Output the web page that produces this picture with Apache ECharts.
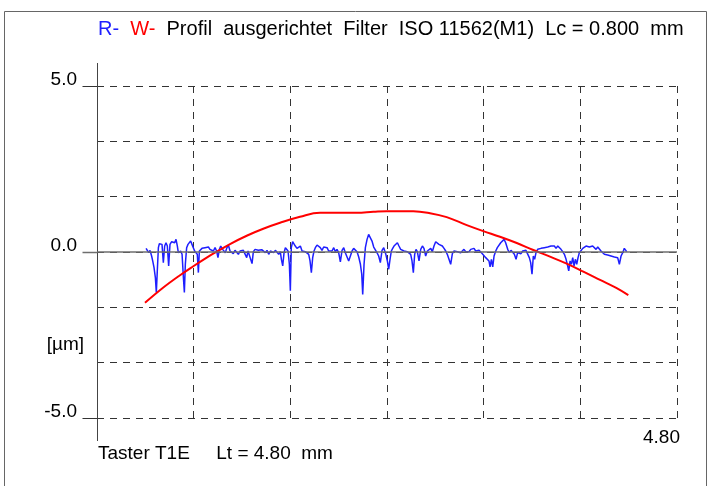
<!DOCTYPE html>
<html>
<head>
<meta charset="utf-8">
<title>Profil</title>
<script src="https://cdn.jsdelivr.net/npm/echarts@6/dist/echarts.min.js"></script>
<style>
	html, body { margin: 0; padding: 0; background: #fff; }
	#main { width: 711px; height: 486px; }
</style>
</head>
<body>
<div id="main"></div>
<script>
	// R-Profil (blau), [x in mm, z in µm]
	var rProfile = [
		[0.406,0.11],[0.417,0.13],[0.428,-0.02],[0.439,0.05],[0.452,-0.12],[0.461,-0.27],[0.472,-0.47],[0.483,-0.77],[0.491,-1.22],[0.499,-0.57],
		[0.508,0.13],[0.516,0.25],[0.527,0.28],[0.538,0.23],[0.549,-0.32],[0.560,0.18],[0.571,0.28],[0.582,0.18],[0.593,-0.42],[0.604,0.23],
		[0.618,0.31],[0.632,0.35],[0.643,0.28],[0.654,0.38],[0.665,0.18],[0.673,-0.02],[0.681,0.01],[0.692,0.03],[0.704,-0.07],[0.715,-0.77],
		[0.723,-1.22],[0.731,-0.37],[0.742,0.13],[0.753,0.23],[0.764,0.28],[0.775,0.33],[0.786,0.23],[0.797,0.13],[0.808,0.03],[0.819,0.08],
		[0.830,-0.07],[0.839,-0.62],[0.847,0.03],[0.858,0.05],[0.869,0.11],[0.880,0.07],[0.894,0.13],[0.908,0.11],[0.922,0.15],[0.935,0.08],
		[0.949,0.11],[0.963,0.03],[0.977,0.13],[0.990,0.03],[1.001,-0.17],[1.013,0.08],[1.024,0.18],[1.040,0.08],[1.051,0.13],[1.062,-0.02],
		[1.073,0.11],[1.087,0.21],[1.101,0.03],[1.115,0.08],[1.128,-0.05],[1.142,0.05],[1.156,0.01],[1.170,-0.07],[1.184,0.03],[1.197,-0.02],
		[1.211,0.05],[1.225,0.01],[1.239,-0.17],[1.250,0.03],[1.266,0.05],[1.283,-0.35],[1.294,0.01],[1.308,0.08],[1.322,0.03],[1.335,0.05],
		[1.349,0.01],[1.363,0.07],[1.379,0.08],[1.393,-0.02],[1.407,0.05],[1.421,-0.07],[1.435,0.03],[1.448,0.08],[1.462,-0.02],[1.476,0.05],
		[1.490,0.08],[1.504,-0.07],[1.517,0.01],[1.526,-0.22],[1.537,-0.42],[1.548,-0.02],[1.559,0.13],[1.570,0.15],[1.581,0.03],[1.592,-0.37],
		[1.600,-1.17],[1.608,0.13],[1.619,0.31],[1.630,0.25],[1.641,0.18],[1.655,0.11],[1.669,0.05],[1.683,0.18],[1.697,0.03],[1.710,0.08],
		[1.724,0.01],[1.738,0.07],[1.752,-0.07],[1.763,-0.27],[1.774,-0.62],[1.785,-0.17],[1.796,0.03],[1.807,0.13],[1.821,0.21],[1.835,0.23],
		[1.848,0.13],[1.862,0.05],[1.876,0.15],[1.890,0.11],[1.904,0.13],[1.917,0.03],[1.931,0.08],[1.945,0.03],[1.959,0.13],[1.973,0.01],
		[1.986,0.08],[2.000,-0.02],[2.014,-0.30],[2.028,0.05],[2.042,0.13],[2.055,-0.02],[2.069,0.03],[2.083,-0.27],[2.097,-0.22],[2.111,0.03],
		[2.124,0.11],[2.138,0.05],[2.152,0.01],[2.166,-0.15],[2.180,-0.37],[2.191,-0.67],[2.199,-1.28],[2.210,-0.37],[2.221,0.13],[2.235,0.38],
		[2.248,0.53],[2.262,0.48],[2.276,0.33],[2.290,0.15],[2.304,0.13],[2.317,-0.02],[2.331,-0.12],[2.345,-0.32],[2.359,0.05],[2.373,0.13],
		[2.389,-0.05],[2.403,-0.27],[2.414,-0.52],[2.425,-0.22],[2.436,0.03],[2.447,0.11],[2.458,0.18],[2.472,0.23],[2.486,0.28],[2.499,0.18],
		[2.513,0.08],[2.527,0.13],[2.541,0.03],[2.555,0.08],[2.568,0.01],[2.582,0.05],[2.596,-0.07],[2.607,-0.27],[2.618,-0.62],[2.629,-0.07],
		[2.640,0.08],[2.651,0.01],[2.665,-0.27],[2.679,0.08],[2.693,0.18],[2.706,0.11],[2.720,-0.12],[2.734,0.03],[2.748,0.08],[2.762,0.11],
		[2.775,0.01],[2.789,0.18],[2.803,0.31],[2.817,0.28],[2.830,0.23],[2.844,0.25],[2.858,0.18],[2.872,0.11],[2.886,0.03],[2.899,-0.07],
		[2.913,-0.22],[2.927,-0.37],[2.941,-0.05],[2.955,0.03],[2.968,0.08],[2.982,0.01],[2.996,0.05],[3.010,-0.02],[3.024,0.03],[3.037,0.08],
		[3.051,0.01],[3.065,0.05],[3.079,0.01],[3.093,0.08],[3.106,0.03],[3.120,0.11],[3.134,0.03],[3.148,0.08],[3.162,0.05],[3.175,0.01],
		[3.189,-0.05],[3.203,-0.09],[3.217,-0.17],[3.231,-0.12],[3.244,-0.27],[3.253,-0.45],[3.264,-0.22],[3.275,-0.45],[3.286,-0.12],[3.300,0.03],
		[3.313,0.13],[3.327,0.18],[3.341,0.28],[3.355,0.33],[3.369,0.38],[3.382,0.28],[3.399,0.08],[3.413,-0.02],[3.426,0.05],[3.440,0.01],
		[3.454,-0.07],[3.468,-0.22],[3.481,-0.02],[3.495,0.01],[3.509,-0.05],[3.523,0.03],[3.537,-0.02],[3.550,0.05],[3.564,0.03],[3.578,-0.17],
		[3.589,-0.32],[3.600,-0.67],[3.611,-0.12],[3.622,-0.22],[3.633,-0.02],[3.647,0.08],[3.661,0.13],[3.675,0.11],[3.688,0.05],[3.702,0.13],
		[3.716,0.18],[3.730,0.15],[3.744,0.11],[3.757,0.18],[3.771,0.23],[3.785,0.18],[3.799,0.11],[3.813,0.18],[3.826,0.15],[3.840,0.08],
		[3.854,0.01],[3.868,-0.07],[3.882,-0.22],[3.895,-0.42],[3.904,-0.57],[3.915,-0.27],[3.926,-0.37],[3.937,-0.17],[3.948,-0.42],[3.959,-0.22],
		[3.970,-0.37],[3.981,-0.17],[3.992,-0.02],[4.006,0.03],[4.020,0.11],[4.033,0.08],[4.047,0.18],[4.061,0.23],[4.075,0.15],[4.089,0.21],
		[4.102,0.18],[4.116,0.13],[4.130,0.08],[4.144,0.15],[4.157,0.11],[4.171,0.03],[4.185,0.05],[4.199,-0.07],[4.213,-0.02],[4.226,-0.09],
		[4.240,-0.05],[4.254,-0.12],[4.268,-0.07],[4.282,-0.15],[4.295,-0.09],[4.309,-0.17],[4.323,-0.37],[4.337,-0.12],[4.351,-0.02],[4.364,0.11],
		[4.373,0.13],[4.384,0.01]
	];

	// W-Profil (rot), [x in mm, z in µm]
	var wProfile = [
		[0.397,-1.53],[0.549,-1.07],[0.687,-0.70],[0.797,-0.43],[0.908,-0.17],[0.991,0.01],[1.101,0.24],[1.239,0.49],
		[1.376,0.70],[1.515,0.88],[1.680,1.06],[1.846,1.18],[2.011,1.18],[2.149,1.18],[2.287,1.21],[2.398,1.23],
		[2.618,1.23],[2.756,1.17],[2.894,1.05],[3.060,0.81],[3.197,0.63],[3.335,0.46],[3.474,0.27],[3.611,0.06],
		[3.749,-0.14],[3.887,-0.35],[4.025,-0.59],[4.163,-0.84],[4.301,-1.09],[4.397,-1.30]
	];

	var yLabelValues = [5, 0, -5];
	var yLabelTexts = ['5.0', '0.0', '-5.0'];
	var xLabelText = '4.80';
	var xMax = 4.8;

	var FONT = '"Liberation Sans", Arial, sans-serif';

	function yLabel(v) {
		for (var i = 0; i < yLabelValues.length; i++) {
			if (Math.abs(v - yLabelValues[i]) < 1e-6) return yLabelTexts[i];
		}
		return '';
	}

	var option = {
		animation: false,
		backgroundColor: '#fff',
		title: {
			left: 93,
			top: 14,
			text: '{b|R-}  {r|W-}  Profil  ausgerichtet  Filter  ISO 11562(M1)  Lc = 0.800  mm',
			textStyle: {
				fontFamily: FONT,
				fontSize: 20,
				fontWeight: 'normal',
				color: '#000',
				rich: {
					b: { color: '#1e1eff', fontFamily: FONT, fontSize: 20 },
					r: { color: '#ff0000', fontFamily: FONT, fontSize: 20 }
				}
			}
		},
		grid: { left: 97, right: 34, top: 86, bottom: 68, containLabel: false },
		xAxis: {
			type: 'value',
			min: 0,
			max: xMax,
			interval: 0.8,
			axisLine: { show: false },
			axisTick: { show: false },
			axisLabel: { show: false },
			splitLine: { show: true, lineStyle: { color: '#333', width: 1, type: [7, 6] } }
		},
		yAxis: {
			type: 'value',
			min: -5,
			max: 5,
			interval: 5 / 3,
			axisLine: { show: true, lineStyle: { color: '#444', width: 1 } },
			axisTick: { show: false },
			axisLabel: {
				margin: 20,
				fontFamily: FONT,
				fontSize: 19,
				color: '#000',
				verticalAlign: 'bottom',
				lineHeight: 12,
				formatter: yLabel
			},
			splitLine: { show: true, lineStyle: { color: '#333', width: 1, type: [7, 6] } }
		},
		series: [
			{
				// Nulllinie
				type: 'line',
				data: [],
				silent: true,
				z: 1,
				markLine: {
					silent: true,
					symbol: 'none',
					label: { show: false },
					lineStyle: { color: '#6e6e6e', width: 1.5, type: 'solid' },
					data: [{ yAxis: 0 }]
				}
			},
			{
				name: 'R',
				type: 'line',
				data: rProfile,
				showSymbol: false,
				z: 2,
				lineStyle: { color: '#1e1eff', width: 1.5 }
			},
			{
				name: 'W',
				type: 'line',
				data: wProfile,
				showSymbol: false,
				smooth: 0.4,
				z: 3,
				lineStyle: { color: '#ff0000', width: 2 }
			}
		]
	};

	var myChart = echarts.init(document.getElementById('main'));
	myChart.setOption(option);

	// Achsenverlaengerung, Teilstriche und Beschriftungen
	var p0 = myChart.convertToPixel({ gridIndex: 0 }, [0, 5]);
	var p1 = myChart.convertToPixel({ gridIndex: 0 }, [0, -5]);
	var pEnd = myChart.convertToPixel({ gridIndex: 0 }, [xMax, -5]);
	var ax = Math.round(p0[0]) + 0.5;
	var graphics = [
		{ type: 'rect', shape: { x: 4.5, y: 11.5, width: 702, height: 480 }, style: { fill: 'none', stroke: '#666', lineWidth: 1 }, silent: true },
		{ type: 'line', shape: { x1: ax, y1: p0[1] - 23, x2: ax, y2: p1[1] + 23 }, style: { stroke: '#444', lineWidth: 1 }, silent: true },
		{ type: 'text', x: 84, y: 345, style: { text: '[µm]', font: '19px ' + FONT, fill: '#000', align: 'right', verticalAlign: 'middle' } },
		{ type: 'text', x: 98, y: 454, style: { text: 'Taster T1E     Lt = 4.80  mm', font: '19px ' + FONT, fill: '#000', verticalAlign: 'middle' } },
		{ type: 'text', x: pEnd[0] + 3, y: pEnd[1] + 20, style: { text: xLabelText, font: '19px ' + FONT, fill: '#000', align: 'right', verticalAlign: 'middle' } }
	];
	yLabelValues.forEach(function (v) {
		var p = myChart.convertToPixel({ gridIndex: 0 }, [0, v]);
		var yy = Math.round(p[1]) + 0.5;
		graphics.push({
			type: 'line',
			shape: { x1: ax - 15, y1: yy, x2: ax, y2: yy },
			style: { stroke: v === 0 ? '#6e6e6e' : '#333', lineWidth: v === 0 ? 1.5 : 1 },
			silent: true
		});
	});
	myChart.setOption({ graphic: graphics });
</script>
</body>
</html>
